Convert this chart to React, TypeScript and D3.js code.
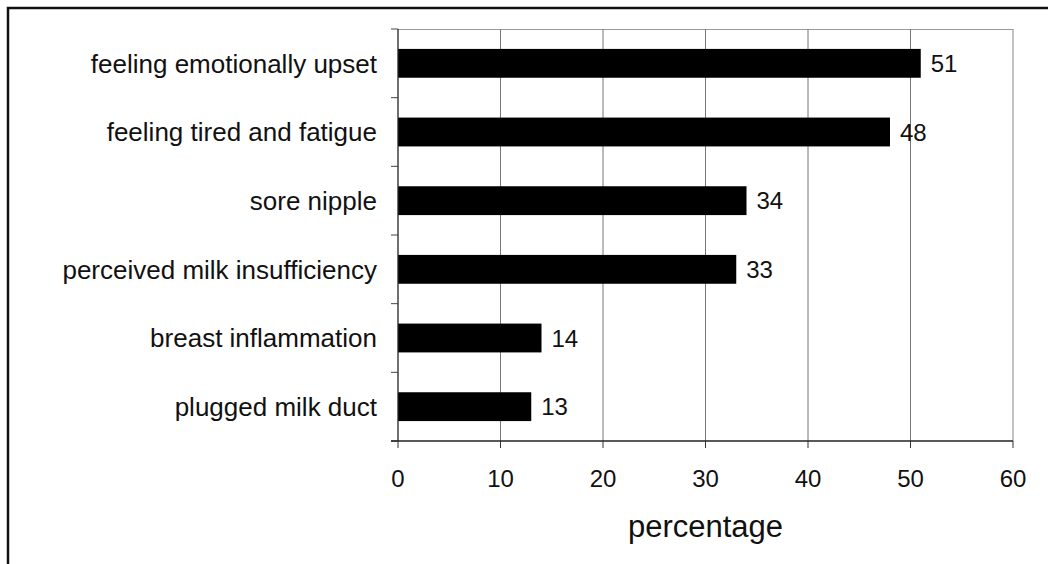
import React, { useEffect, useRef } from 'react';
import * as d3 from 'd3';

const categories = [
  'feeling emotionally upset',
  'feeling tired and fatigue',
  'sore nipple',
  'perceived milk insufficiency',
  'breast inflammation',
  'plugged milk duct',
];
const values = [51, 48, 34, 33, 14, 13];
const xTicks = [0, 10, 20, 30, 40, 50, 60];
const xTitle = 'percentage';

const W = 1048;
const H = 564;
const FONT = '"Liberation Sans", Arial, Helvetica, sans-serif';

export default function App() {
  const ref = useRef<SVGSVGElement>(null);

  useEffect(() => {
    if (!ref.current) return;
    const margin = { top: 29, right: 35, bottom: 123, left: 398 };
    const width = W - margin.left - margin.right;
    const height = H - margin.top - margin.bottom;

    const svg = d3.select(ref.current);
    svg.selectAll('*').remove();

    // outer frame (runs off the page on the right and bottom)
    svg.append('rect')
      .attr('x', 8).attr('y', 8)
      .attr('width', W + 20).attr('height', H + 20)
      .attr('fill', 'white')
      .attr('stroke', '#111').attr('stroke-width', 2.5);

    const g = svg.append('g').attr('transform', `translate(${margin.left},${margin.top})`);

    const x = d3.scaleLinear().domain([0, 60]).range([0, width]);
    const y = d3.scaleBand().domain(categories).range([0, height]).paddingInner(0.58).paddingOuter(0.29);

    // plot frame top/right
    g.append('path')
      .attr('d', `M0,0.5H${x(60)}V${height}`)
      .attr('fill', 'none')
      .attr('stroke', '#999').attr('stroke-width', 1.2);

    // gridlines
    g.selectAll('.grid')
      .data(xTicks.slice(1, -1))
      .enter().append('line')
      .attr('x1', d => x(d)).attr('x2', d => x(d))
      .attr('y1', 0).attr('y2', height)
      .attr('stroke', '#777').attr('stroke-width', 1);

    // bars
    g.selectAll('.bar')
      .data(values)
      .enter().append('rect')
      .attr('x', 0)
      .attr('y', (d, i) => y(categories[i]) || 0)
      .attr('width', d => x(d))
      .attr('height', y.bandwidth())
      .attr('fill', '#000');

    // value labels
    g.selectAll('.val')
      .data(values)
      .enter().append('text')
      .attr('x', d => x(d) + 10)
      .attr('y', (d, i) => (y(categories[i]) || 0) + y.bandwidth() / 2)
      .attr('dy', '0.36em')
      .attr('font-family', FONT)
      .attr('font-size', 24)
      .attr('fill', '#111')
      .text(d => d);

    // y axis
    const bounds = d3.range(categories.length + 1).map(i => i * height / categories.length);
    g.append('line')
      .attr('x1', 0).attr('x2', 0).attr('y1', 0).attr('y2', height)
      .attr('stroke', '#222').attr('stroke-width', 1.3);
    g.selectAll('.ytick')
      .data(bounds)
      .enter().append('line')
      .attr('x1', -7).attr('x2', 0)
      .attr('y1', d => d).attr('y2', d => d)
      .attr('stroke', '#444').attr('stroke-width', 1);

    g.selectAll('.cat')
      .data(categories)
      .enter().append('text')
      .attr('x', -21)
      .attr('y', d => (y(d) || 0) + y.bandwidth() / 2)
      .attr('dy', '0.36em')
      .attr('text-anchor', 'end')
      .attr('font-family', FONT)
      .attr('font-size', 26)
      .attr('fill', '#111')
      .text(d => d);

    // x axis
    g.append('line')
      .attr('x1', -7).attr('x2', x(60)).attr('y1', height).attr('y2', height)
      .attr('stroke', '#222').attr('stroke-width', 1.3);
    g.selectAll('.xtick')
      .data(xTicks)
      .enter().append('line')
      .attr('x1', d => x(d)).attr('x2', d => x(d))
      .attr('y1', height).attr('y2', height + 7)
      .attr('stroke', '#333').attr('stroke-width', 1);
    g.selectAll('.xlab')
      .data(xTicks)
      .enter().append('text')
      .attr('x', d => x(d))
      .attr('y', height + 46)
      .attr('text-anchor', 'middle')
      .attr('font-family', FONT)
      .attr('font-size', 24)
      .attr('fill', '#111')
      .text(d => d);

    g.append('text')
      .attr('x', x(30))
      .attr('y', height + 96)
      .attr('text-anchor', 'middle')
      .attr('font-family', FONT)
      .attr('font-size', 31)
      .attr('fill', '#111')
      .text(xTitle);
  }, []);

  return (
    <div style={{ position: 'absolute', left: 0, top: 0, width: W, height: H, overflow: 'hidden', background: 'white' }}>
      <svg ref={ref} width={W} height={H}></svg>
    </div>
  );
}
